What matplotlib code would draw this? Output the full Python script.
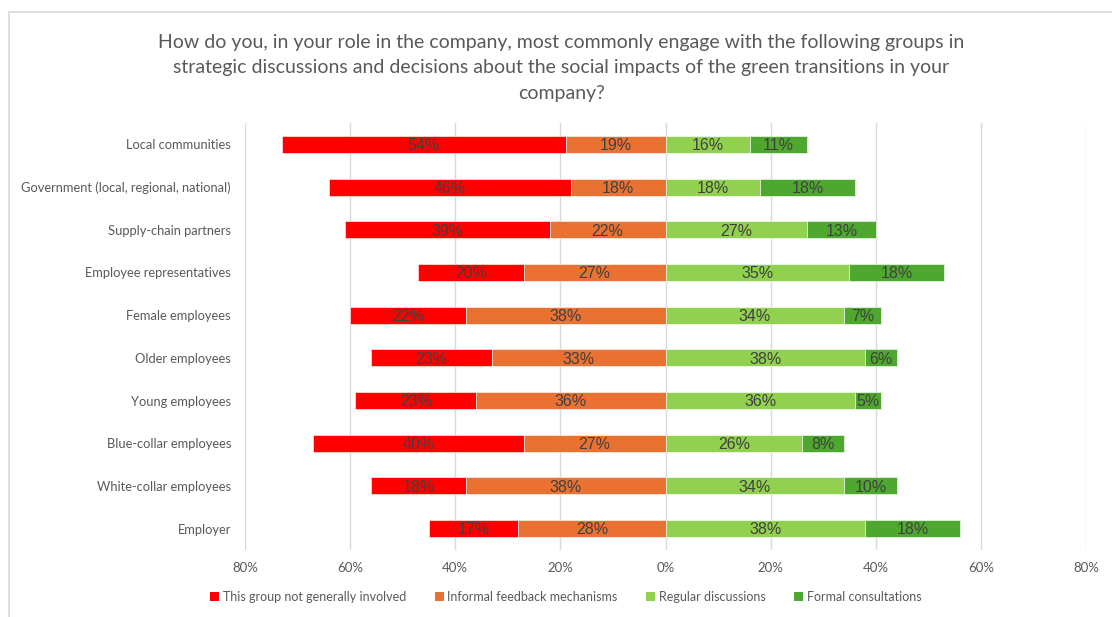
import matplotlib
matplotlib.use("Agg")
import matplotlib.pyplot as plt
from matplotlib.patches import Rectangle, Patch
import numpy as np

categories = [
    "Local communities",
    "Government (local, regional, national)",
    "Supply-chain partners",
    "Employee representatives",
    "Female employees",
    "Older employees",
    "Young employees",
    "Blue-collar employees",
    "White-collar employees",
    "Employer",
]
not_involved = [54, 46, 39, 20, 22, 23, 23, 40, 18, 17]
informal_feedback = [19, 18, 22, 27, 38, 33, 36, 27, 38, 28]
regular_discussions = [16, 18, 27, 35, 34, 38, 36, 26, 34, 38]
formal_consultations = [11, 18, 13, 18, 7, 6, 5, 8, 10, 18]

series_names = [
    "This group not generally involved",
    "Informal feedback mechanisms",
    "Regular discussions",
    "Formal consultations",
]
tick_values = [-80, -60, -40, -20, 0, 20, 40, 60, 80]
tick_labels = ["80%", "60%", "40%", "20%", "0%", "20%", "40%", "60%", "80%"]

title = ("How do you, in your role in the company, most commonly engage with the following groups in\n"
         "strategic discussions and decisions about the social impacts of the green transitions in your\n"
         "company?")

colors = ["#FF0000", "#E97132", "#92D050", "#4EA72E"]
text_gray = "#595959"
label_gray = "#404040"

fig = plt.figure(figsize=(11.12, 6.17), dpi=100)
fig.patch.set_facecolor("white")

# chart frame
fig.add_artist(Rectangle((9 / 1112, -0.1), 1.2, 1 - 12 / 617 + 0.1,
                         transform=fig.transFigure, fill=False,
                         edgecolor="#D9D9D9", linewidth=1.2))

ax = fig.add_axes([245 / 1112, 1 - 550 / 617, (1086 - 245) / 1112, (550 - 123) / 617])

y = np.arange(len(categories))
h = 0.4

ni = np.array(not_involved)
inf = np.array(informal_feedback)
reg = np.array(regular_discussions)
frm = np.array(formal_consultations)

segments = [
    (-inf - ni, ni),
    (-inf, inf),
    (np.zeros_like(reg), reg),
    (reg, frm),
]

for (left, width), color, name in zip(segments, colors, series_names):
    ax.barh(y, width, left=left, height=h, color=color,
            edgecolor="white", linewidth=0.4, label=name, zorder=3)
    for xl, w, yy in zip(left, width, y):
        ax.text(xl + w / 2, yy + 0.03, f"{w}%", ha="center", va="center",
                fontsize=11.5, color=label_gray, family="Liberation Sans", zorder=4)

ax.set_xlim(-80, 80)
ax.set_ylim(len(categories) - 0.5, -0.5)
ax.set_xticks(tick_values)
ax.set_xticklabels(tick_labels, fontsize=9.5, color=text_gray, family="Lato")
ax.set_yticks(y)
ax.set_yticklabels(categories, fontsize=9.3, color=text_gray, family="Lato")
ax.tick_params(axis="both", length=0)
ax.tick_params(axis="x", pad=9)
ax.tick_params(axis="y", pad=10)
ax.grid(axis="x", color="#D9D9D9", linewidth=1, zorder=0)
for s in ax.spines.values():
    s.set_visible(False)

fig.text(0.505, 1 - 34 / 617, title, ha="center", va="top", fontsize=14,
         color=text_gray, family="Lato", linespacing=1.6)

handles = [Patch(facecolor=c, edgecolor="none") for c in colors]
fig.legend(handles, series_names, loc="center", bbox_to_anchor=(566 / 1112, 1 - 597 / 617),
           ncol=4, frameon=False, labelcolor=text_gray,
           prop={"family": "Lato", "size": 9},
           handlelength=0.7, handleheight=0.7, handletextpad=0.3, columnspacing=2.3)

fig.savefig("out.png", dpi=100)
